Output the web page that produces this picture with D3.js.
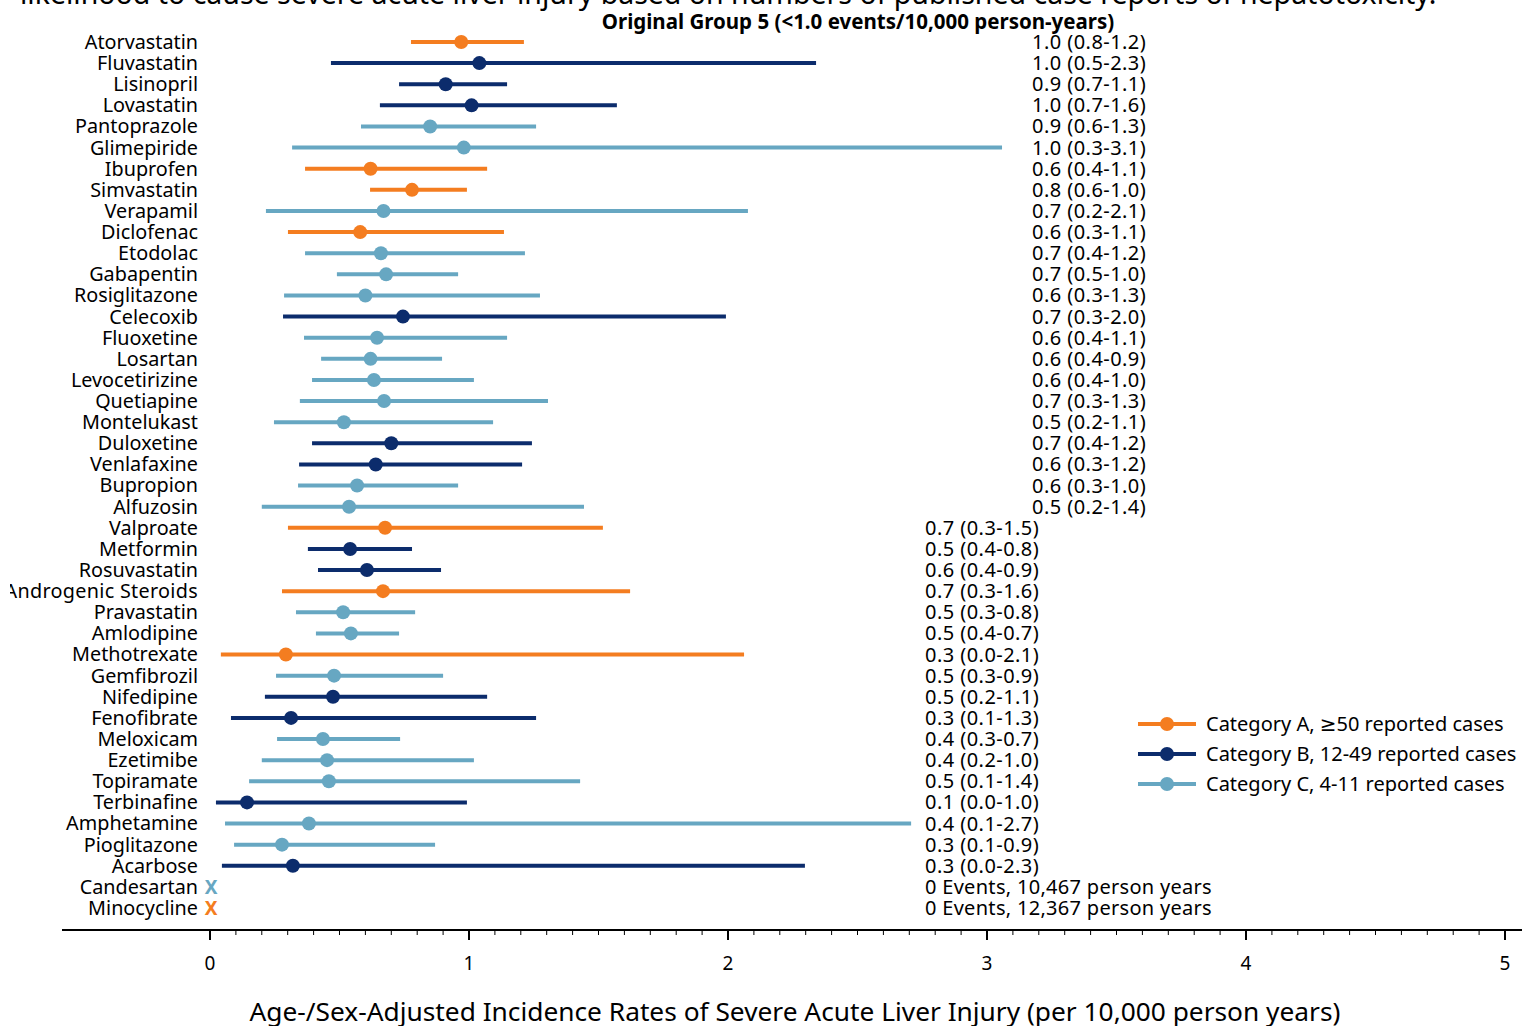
<!DOCTYPE html>
<html>
<head>
<meta charset="utf-8">
<script src="https://cdn.jsdelivr.net/npm/d3@7"></script>
<style>
  body { margin: 0; background: #fff; }
  text { font-family: "Noto Sans", "DejaVu Sans", sans-serif; fill: #000; }
</style>
</head>
<body>
<script>
// drugs, top to bottom
var drugs = ["Atorvastatin", "Fluvastatin", "Lisinopril", "Lovastatin", "Pantoprazole", "Glimepiride",
  "Ibuprofen", "Simvastatin", "Verapamil", "Diclofenac", "Etodolac", "Gabapentin", "Rosiglitazone",
  "Celecoxib", "Fluoxetine", "Losartan", "Levocetirizine", "Quetiapine", "Montelukast", "Duloxetine",
  "Venlafaxine", "Bupropion", "Alfuzosin", "Valproate", "Metformin", "Rosuvastatin", "Androgenic Steroids",
  "Pravastatin", "Amlodipine", "Methotrexate", "Gemfibrozil", "Nifedipine", "Fenofibrate", "Meloxicam",
  "Ezetimibe", "Topiramate", "Terbinafine", "Amphetamine", "Pioglitazone", "Acarbose", "Candesartan",
  "Minocycline"];

// category of reported cases (A, B, C)
var category = ["A", "B", "B", "B", "C", "C", "A", "A", "C", "A", "C", "C", "C", "B", "C", "C", "C", "C",
  "C", "B", "B", "C", "C", "A", "B", "B", "A", "C", "C", "A", "C", "B", "B", "C", "C", "C", "B", "C", "C",
  "B", "C", "A"];

// incidence rate estimate and 95% CI (null = 0 events)
var estimate = [0.97, 1.04, 0.91, 1.01, 0.85, 0.98, 0.62, 0.78, 0.67, 0.58, 0.66, 0.68, 0.60, 0.745,
  0.645, 0.62, 0.633, 0.672, 0.517, 0.70, 0.64, 0.568, 0.537, 0.676, 0.541, 0.606, 0.668, 0.514, 0.544,
  0.293, 0.479, 0.475, 0.313, 0.436, 0.452, 0.459, 0.143, 0.382, 0.278, 0.32, null, null];
var lower = [0.776, 0.467, 0.73, 0.656, 0.583, 0.317, 0.367, 0.618, 0.216, 0.301, 0.367, 0.49, 0.286,
  0.282, 0.363, 0.429, 0.394, 0.347, 0.247, 0.394, 0.344, 0.34, 0.20, 0.301, 0.378, 0.417, 0.278, 0.332,
  0.409, 0.042, 0.255, 0.212, 0.081, 0.259, 0.20, 0.151, 0.023, 0.058, 0.093, 0.046, null, null];
var upper = [1.212, 2.34, 1.147, 1.571, 1.259, 3.058, 1.07, 0.992, 2.077, 1.135, 1.216, 0.958, 1.274,
  1.992, 1.147, 0.896, 1.019, 1.305, 1.093, 1.243, 1.205, 0.958, 1.444, 1.517, 0.78, 0.892, 1.622, 0.792,
  0.73, 2.062, 0.90, 1.07, 1.259, 0.734, 1.019, 1.429, 0.992, 2.707, 0.869, 2.297, null, null];

// printed values beside each row
var rateLabels = ["1.0 (0.8-1.2)", "1.0 (0.5-2.3)", "0.9 (0.7-1.1)", "1.0 (0.7-1.6)", "0.9 (0.6-1.3)",
  "1.0 (0.3-3.1)", "0.6 (0.4-1.1)", "0.8 (0.6-1.0)", "0.7 (0.2-2.1)", "0.6 (0.3-1.1)", "0.7 (0.4-1.2)",
  "0.7 (0.5-1.0)", "0.6 (0.3-1.3)", "0.7 (0.3-2.0)", "0.6 (0.4-1.1)", "0.6 (0.4-0.9)", "0.6 (0.4-1.0)",
  "0.7 (0.3-1.3)", "0.5 (0.2-1.1)", "0.7 (0.4-1.2)", "0.6 (0.3-1.2)", "0.6 (0.3-1.0)", "0.5 (0.2-1.4)",
  "0.7 (0.3-1.5)", "0.5 (0.4-0.8)", "0.6 (0.4-0.9)", "0.7 (0.3-1.6)", "0.5 (0.3-0.8)", "0.5 (0.4-0.7)",
  "0.3 (0.0-2.1)", "0.5 (0.3-0.9)", "0.5 (0.2-1.1)", "0.3 (0.1-1.3)", "0.4 (0.3-0.7)", "0.4 (0.2-1.0)",
  "0.5 (0.1-1.4)", "0.1 (0.0-1.0)", "0.4 (0.1-2.7)", "0.3 (0.1-0.9)", "0.3 (0.0-2.3)",
  "0 Events, 10,467 person years", "0 Events, 12,367 person years"];

var xTicks = [0, 1, 2, 3, 4, 5];

var categories = ["A", "B", "C"];
var legendLabels = ["Category A, \u226550 reported cases", "Category B, 12-49 reported cases",
  "Category C, 4-11 reported cases"];

var width = 1525, height = 1026;

var svg = d3.select("body").append("svg")
    .attr("width", width)
    .attr("height", height);

// clip everything to the visible panel (the long label is cut on the left)
svg.append("clipPath").attr("id", "panel")
  .append("rect").attr("x", 10).attr("y", -10).attr("width", width).attr("height", height + 20);

var g = svg.append("g").attr("clip-path", "url(#panel)");

var color = d3.scaleOrdinal()
    .domain(categories)
    .range(["#f47d20", "#0c2c6c", "#67a7c2"]);

var x = d3.scaleLinear()
    .domain([-0.5714, 5.0656])
    .range([62, 1522]);

var y = d3.scalePoint()
    .domain(drugs)
    .range([42, 908]);

// title (partly cut off at top) and subtitle
g.append("text")
    .attr("x", 20).attr("y", 4)
    .style("font-size", "28.5px")
    .text("likelihood to cause severe acute liver injury based on numbers of published case reports of hepatotoxicity.");

g.append("text")
    .attr("x", 858).attr("y", 29)
    .attr("text-anchor", "middle")
    .style("font-size", "20.5px")
    .style("font-weight", "bold")
    .text("Original Group 5 (<1.0 events/10,000 person-years)");

var rows = drugs.map(function(d, i) {
  return { drug: d, cat: category[i], est: estimate[i], lo: lower[i], hi: upper[i], label: rateLabels[i], i: i };
});

// drug names
g.selectAll(".drug")
    .data(rows)
  .enter().append("text")
    .attr("class", "drug")
    .attr("x", 198)
    .attr("y", function(d) { return y(d.drug); })
    .attr("dy", "0.35em")
    .attr("text-anchor", "end")
    .style("font-size", "19.8px")
    .style("letter-spacing", function(d) { return d.drug.length > 15 ? "0.3px" : null; })
    .text(function(d) { return d.drug; });

var withCI = rows.filter(function(d) { return d.est !== null; });

// confidence interval lines
g.selectAll(".ci")
    .data(withCI)
  .enter().append("line")
    .attr("class", "ci")
    .attr("x1", function(d) { return x(d.lo); })
    .attr("x2", function(d) { return x(d.hi); })
    .attr("y1", function(d) { return y(d.drug); })
    .attr("y2", function(d) { return y(d.drug); })
    .attr("stroke", function(d) { return color(d.cat); })
    .attr("stroke-width", 4);

// point estimates
g.selectAll(".dot")
    .data(withCI)
  .enter().append("circle")
    .attr("class", "dot")
    .attr("cx", function(d) { return x(d.est); })
    .attr("cy", function(d) { return y(d.drug); })
    .attr("r", 7)
    .attr("fill", function(d) { return color(d.cat); });

// zero-event drugs marked with an X at 0
g.selectAll(".zero")
    .data(rows.filter(function(d) { return d.est === null; }))
  .enter().append("text")
    .attr("class", "zero")
    .attr("x", x(0) + 1)
    .attr("y", function(d) { return y(d.drug); })
    .attr("dy", "0.35em")
    .attr("text-anchor", "middle")
    .style("font-size", "19px")
    .style("font-weight", "bold")
    .style("fill", function(d) { return color(d.cat); })
    .text("X");

// rate text, first block further right
g.selectAll(".rate")
    .data(rows)
  .enter().append("text")
    .attr("class", "rate")
    .attr("x", function(d) { return d.i < 23 ? 1032 : 925; })
    .attr("y", function(d) { return y(d.drug); })
    .attr("dy", "0.35em")
    .style("font-size", "20px")
    .style("letter-spacing", function(d) { return d.est === null ? "0.3px" : "0.45px"; })
    .text(function(d) { return d.label; });

// x axis
var axisY = 930;
g.append("line")
    .attr("x1", 62).attr("x2", 1522)
    .attr("y1", axisY).attr("y2", axisY)
    .attr("stroke", "#000").attr("stroke-width", 2);

var minor = d3.range(0, 50).map(function(k) { return k / 10; }).filter(function(v) { return v % 1 !== 0; });

g.selectAll(".minor")
    .data(minor)
  .enter().append("line")
    .attr("class", "minor")
    .attr("x1", function(d) { return x(d); }).attr("x2", function(d) { return x(d); })
    .attr("y1", axisY).attr("y2", axisY + 5)
    .attr("stroke", "#000").attr("stroke-width", 1);

g.selectAll(".major")
    .data(xTicks)
  .enter().append("line")
    .attr("class", "major")
    .attr("x1", function(d) { return x(d); }).attr("x2", function(d) { return x(d); })
    .attr("y1", axisY).attr("y2", axisY + 10)
    .attr("stroke", "#000").attr("stroke-width", 2);

g.selectAll(".tickLabel")
    .data(xTicks)
  .enter().append("text")
    .attr("class", "tickLabel")
    .attr("x", function(d) { return x(d); })
    .attr("y", 970)
    .attr("text-anchor", "middle")
    .style("font-size", "19px")
    .text(function(d) { return d; });

g.append("text")
    .attr("x", 795).attr("y", 1021)
    .attr("text-anchor", "middle")
    .style("font-size", "26.3px")
    .text("Age-/Sex-Adjusted Incidence Rates of Severe Acute Liver Injury (per 10,000 person years)");

// legend
var legend = g.selectAll(".legend")
    .data(categories)
  .enter().append("g")
    .attr("class", "legend")
    .attr("transform", function(d, i) { return "translate(1138," + (724 + i * 30) + ")"; });

legend.append("line")
    .attr("x1", 0).attr("x2", 58)
    .attr("stroke", function(d) { return color(d); })
    .attr("stroke-width", 4);

legend.append("circle")
    .attr("cx", 29).attr("r", 7)
    .attr("fill", function(d) { return color(d); });

legend.append("text")
    .attr("x", 68)
    .attr("dy", "0.35em")
    .style("font-size", "20px")
    .text(function(d, i) { return legendLabels[i]; });
</script>
</body>
</html>
